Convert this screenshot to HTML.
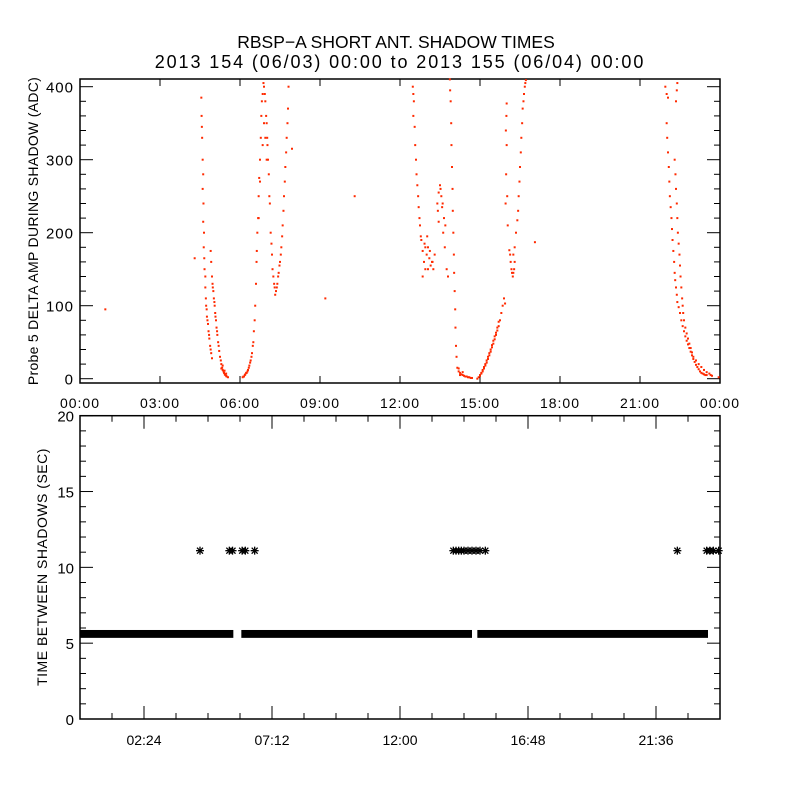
<!DOCTYPE html>
<html><head><meta charset="utf-8">
<style>
html,body{margin:0;padding:0;background:#fff;}
svg{display:block;font-family:"Liberation Sans",sans-serif;}
</style></head>
<body>
<svg id="chart" width="800" height="800" viewBox="0 0 800 800">
<rect x="0" y="0" width="800" height="800" fill="#fff"/>
<text x="396" y="48" text-anchor="middle" font-size="17.5" fill="#000">RBSP−A SHORT ANT. SHADOW TIMES</text>
<text x="400" y="68" text-anchor="middle" font-size="18" letter-spacing="1.9" fill="#000">2013 154 (06/03) 00:00 to 2013 155 (06/04) 00:00</text>
<text transform="translate(38,231) rotate(-90)" text-anchor="middle" font-size="14" letter-spacing="0.3" fill="#000">Probe 5 DELTA AMP DURING SHADOW (ADC)</text>
<text transform="translate(47,567) rotate(-90)" text-anchor="middle" font-size="14" letter-spacing="0.5" fill="#000">TIME BETWEEN SHADOWS (SEC)</text>
<g id="topPanel"></g>
<g id="botPanel"></g>
</svg>
<script>
// ---- top panel data: [hour, ADC] pairs ----
const ampIsolated = [[0.95,95],[4.3,165],[9.2,110],[10.3,250],[7.95,315],[17.06,187]];
const ampPassA = [[4.55,385],[4.56,360],[4.57,345],[4.58,330],[4.6,300],[4.62,280],[4.6,260],[4.63,240],[4.62,215],[4.65,200],[4.64,180],[4.66,165],[4.67,150],[4.7,140],[4.7,125],[4.72,110],[4.73,100],[4.75,95],[4.76,85],[4.78,80],[4.8,75],[4.82,65],[4.84,60],[4.85,55],[4.88,45],[4.9,40],[4.92,35],[4.95,28],
[4.9,175],[4.92,160],[4.95,140],[4.97,130],[4.98,125],[5.0,120],[5.02,110],[5.04,105],[5.05,100],[5.07,90],[5.08,85],[5.1,80],[5.12,70],[5.14,65],[5.15,60],[5.18,50],[5.2,45],[5.22,38],[5.25,30],[5.28,25],[5.3,20],[5.33,15],[5.35,12],[5.38,10],[5.4,8],[5.43,6],[5.45,5],[5.48,4],[5.5,3],[5.55,2],[5.35,18],[5.3,14],[5.42,11],[5.48,7]];
const ampPassB = [[6.1,2],[6.13,3],[6.15,3],[6.18,5],[6.2,6],[6.23,8],[6.25,8],[6.28,10],[6.3,12],[6.33,15],[6.35,18],[6.38,22],[6.4,25],[6.43,30],[6.45,35],[6.48,45],[6.5,50],[6.52,65],[6.55,80],[6.57,100],[6.6,130],[6.62,160],[6.63,175],[6.65,200],[6.68,220],[6.7,250],[6.72,275],[6.75,300],[6.78,330],[6.8,360],[6.82,380],[6.85,390],[6.88,405],
[6.9,400],[6.93,390],[6.95,380],[6.98,360],[7.0,350],[7.02,330],[7.03,320],[7.05,300],[7.08,280],[7.1,250],[7.12,240],[7.15,200],[7.18,185],[7.2,170],[7.22,150],[7.25,140],[7.28,130],[7.3,125],[7.32,115],[7.35,120],[7.38,125],[7.4,130],[6.95,330],[7.0,300],[6.9,350],[6.85,320],[6.75,270],[6.7,220],
[7.43,140],[7.45,145],[7.48,155],[7.5,160],[7.53,170],[7.55,180],[7.58,195],[7.6,210],[7.63,230],[7.65,250],[7.68,270],[7.7,290],[7.73,310],[7.75,330],[7.78,350],[7.8,370],[7.82,400]];
const ampPassC = [[12.48,400],[12.5,390],[12.52,380],[12.5,360],[12.55,345],[12.57,320],[12.6,300],[12.62,280],[12.65,265],[12.68,250],[12.7,235],[12.73,220],[12.75,210],[12.78,195],[12.8,190],[12.85,175],[12.9,160],[12.95,180],[13.0,170],[13.05,150],[13.1,165],[13.15,155],[13.2,160],[13.25,150],[13.3,170],[12.92,185],[13.02,195],[13.12,175],[13.22,160],[12.85,140],[12.95,150],[13.05,180],
[13.4,240],[13.45,255],[13.5,265],[13.55,250],[13.6,240],[13.65,220],[13.7,210],[13.42,230],[13.52,260],[13.62,200],[13.68,180],[13.75,150],[13.8,140],[13.45,215],[13.58,235],
[13.87,410],[13.88,395],[13.9,380],[13.92,350],[13.93,320],[13.95,290],[13.97,260],[13.98,230],[14.0,200],[14.02,170],[14.03,145],[14.05,120],[14.07,95],[14.08,70],[14.1,45],[14.12,30],[14.15,15],[14.2,10],[14.25,8],[14.3,6],[14.35,5],[14.4,4],[14.45,3],[14.5,3],[14.55,2],[14.6,2],[14.65,1],[14.7,1],[14.2,14],[14.25,5],[14.35,9]];
const ampPassD = [[14.9,0],[14.95,2],[15.0,4],[15.05,7],[15.1,10],[15.15,14],[15.2,18],[15.25,22],[15.3,27],[15.35,32],[15.4,37],[15.45,43],[15.5,48],[15.55,54],[15.6,60],[15.65,66],[15.7,72],[15.75,80],[15.8,90],[15.85,100],[15.9,110],[15.94,103],
[15.0,5],[15.05,8],[15.1,12],[15.15,16],[15.2,20],[15.25,25],[15.3,30],[15.35,35],[15.4,40],[15.45,46],[15.5,52],[15.55,58],[15.6,63],[15.65,70],[15.7,78],
[15.96,240],[15.98,280],[16.0,320],[15.97,340],[15.99,360],[16.0,377],[16.02,250],[16.04,210],
[16.1,176],[16.13,170],[16.15,160],[16.18,150],[16.2,145],[16.23,140],[16.25,145],[16.28,150],[16.3,160],
[16.35,200],[16.4,217],[16.43,230],[16.45,250],[16.48,270],[16.5,290],[16.53,310],[16.55,330],[16.58,350],[16.6,370],[16.63,380],[16.65,390],[16.68,400],[16.7,405],[16.72,409],[16.3,180],[16.25,170]];
const ampPassE = [[21.95,400],[22.0,390],[22.05,385],[22.4,405],[22.38,395],[22.35,380],
[22.0,350],[22.02,330],[22.05,310],[22.08,290],[22.1,270],[22.12,250],[22.15,235],[22.18,220],[22.2,205],[22.22,190],[22.25,175],[22.28,160],[22.3,145],[22.32,135],[22.35,125],[22.38,115],[22.4,105],[22.45,98],[22.5,90],[22.55,80],[22.6,72],[22.65,65],[22.7,58],[22.75,52],[22.8,47],[22.85,42],[22.9,37],[22.95,32],[23.0,27],[23.05,23],[23.1,19],[23.15,16],[23.2,13],[23.25,10],[23.3,8],[23.35,7],[23.4,6],[23.45,5],[23.5,5],
[22.3,300],[22.33,280],[22.35,260],[22.38,240],[22.4,220],[22.42,200],[22.45,185],[22.48,170],[22.5,155],[22.52,140],[22.55,125],[22.58,110],[22.6,100],[22.62,90],[22.65,80],[22.7,70],[22.75,62],[22.8,55],[22.85,48],[22.9,42],[22.95,36],[23.0,30],[23.1,25],[23.2,20],[23.3,16],[23.4,12],[23.5,9],[23.6,7],[23.65,5],[23.7,4],[23.95,2]];
// ---- bottom panel data ----
const bandStart = [0, 6.05, 14.9];
const bandEnd = [5.75, 14.7, 23.55];
const bandLow = 5.35, bandHigh = 5.87;
const starHours = [4.5,5.6,5.72,6.08,6.2,6.55,14.0,14.1,14.2,14.3,14.4,14.55,14.7,14.85,15.0,15.2,22.4,23.5,23.62,23.75,23.95];
const starValues = [11.1,11.1,11.1,11.1,11.1,11.1,11.1,11.1,11.1,11.1,11.1,11.1,11.1,11.1,11.1,11.1,11.1,11.1,11.1,11.1,11.1];
const ampTickLabels = ["00:00","03:00","06:00","09:00","12:00","15:00","18:00","21:00","00:00"];
const botTickLabels = ["02:24","07:12","12:00","16:48","21:36"];

const NS="http://www.w3.org/2000/svg";
function mk(tag,attrs,parent){const e=document.createElementNS(NS,tag);for(const k in attrs)e.setAttribute(k,attrs[k]);parent.appendChild(e);return e;}
const L=80,R=720;
const xs=h=>L+(R-L)*h/24;
const T1=79,B1=383, y1=v=>378.7-(v)*0.73;
const T2=415.7,B2=719, y2=v=>719-(v)*(303.3/20);
const topG=document.getElementById('topPanel'), botG=document.getElementById('botPanel');

let f=mk('rect',{x:L,y:T1,width:R-L,height:B1-T1,fill:'none',stroke:'#000','stroke-width':1.5},topG);


for(let v=0;v<=400;v+=20){
  const len=(v%100===0)?13:6, y=y1(v);
  mk('line',{x1:L,x2:L+len,y1:y,y2:y,stroke:'#000'},topG);
  mk('line',{x1:R,x2:R-len,y1:y,y2:y,stroke:'#000'},topG);
  if(v%100===0){
    const t=mk('text',{x:L-6,y:y+6,'text-anchor':'end','font-size':15,'letter-spacing':1},topG);
    t.textContent=v;
    
    
  }
}
ampTickLabels.forEach((lab,i)=>{
  const x=xs(i*3);
  mk('line',{x1:x,x2:x,y1:B1,y2:B1-7,stroke:'#000'},topG);
  mk('line',{x1:x,x2:x,y1:T1,y2:T1+7,stroke:'#000'},topG);
  const t=mk('text',{x:x,y:408,'text-anchor':'middle','font-size':14,'letter-spacing':1},topG);
  t.textContent=lab;
  
  
});
[ampIsolated,ampPassA,ampPassB,ampPassC,ampPassD,ampPassE].forEach(series=>{
  series.forEach(p=>{
    const r=mk('rect',{x:xs(p[0])-1,y:y1(p[1])-1,width:2,height:2,fill:'#ff2a00'},topG);
    
    
  });
});

f=mk('rect',{x:L,y:T2,width:R-L,height:B2-T2,fill:'none',stroke:'#000','stroke-width':1.5},botG);


for(let v=0;v<=20;v+=1){
  const len=(v%5===0)?13:6,y=y2(v);
  mk('line',{x1:L,x2:L+len,y1:y,y2:y,stroke:'#000'},botG);
  mk('line',{x1:R,x2:R-len,y1:y,y2:y,stroke:'#000'},botG);
  if(v%5===0){
    const t=mk('text',{x:L-6,y:y+6,'text-anchor':'end','font-size':15},botG);
    t.textContent=v;
    
    
  }
}
for(let k=1;k<20;k++){
  const x=xs(k*1.2), maj=(k%4===2);
  const len=maj?13:6;
  mk('line',{x1:x,x2:x,y1:B2,y2:B2-len,stroke:'#000'},botG);
  mk('line',{x1:x,x2:x,y1:T2,y2:T2+len,stroke:'#000'},botG);
}
botTickLabels.forEach((lab,i)=>{
  const x=xs(2.4+i*4.8);
  const t=mk('text',{x:x,y:745,'text-anchor':'middle','font-size':14},botG);
  t.textContent=lab;
  
  
});
bandStart.forEach((s,i)=>{
  const r=mk('rect',{x:xs(s),y:y2(bandHigh),width:xs(bandEnd[i])-xs(s),height:y2(bandLow)-y2(bandHigh),fill:'#000'},botG);
  
  
});
starHours.forEach((h,i)=>{
  const cx=xs(h), cy=y2(starValues[i]);
  const g=mk('g',{stroke:'#000','stroke-width':1.3},botG);
  
  
  mk('line',{x1:cx-4,x2:cx+4,y1:cy,y2:cy},g);
  mk('line',{x1:cx,x2:cx,y1:cy-4,y2:cy+4},g);
  mk('line',{x1:cx-3,x2:cx+3,y1:cy-3,y2:cy+3},g);
  mk('line',{x1:cx-3,x2:cx+3,y1:cy+3,y2:cy-3},g);
});
</script>
</body></html>
